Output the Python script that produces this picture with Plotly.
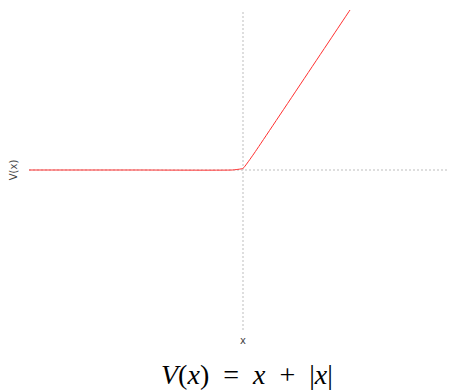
import plotly.graph_objects as go

# V(x) = x + |x|
x_vals = [-2, -1, -0.1, 0, 0.1, 1, 2]
v_vals = [0, 0, 0, 0.02, 0.2, 2, 4]

fig = go.Figure()

# dotted axes through the origin
fig.add_shape(type="line", x0=0, x1=0, y0=-2, y1=2, xref="x", yref="y",
              line=dict(color="#bdbdbd", width=1, dash="2px,2px"), layer="below")
fig.add_shape(type="line", x0=-2, x1=2, y0=0, y1=0, xref="x", yref="y",
              line=dict(color="#bdbdbd", width=1, dash="2px,2px"), layer="below")

fig.add_trace(go.Scatter(x=x_vals, y=v_vals, mode="lines",
                         line=dict(color="#ff3030", width=1, shape="spline", smoothing=0.3),
                         showlegend=False, hoverinfo="skip"))

fig.update_xaxes(range=[-2, 2], showgrid=False, zeroline=False, showticklabels=False,
                 ticks="", showline=False, automargin=False,
                 title=dict(text="x", font=dict(family="DejaVu Sans", size=10, color="#444"), standoff=6))
fig.update_yaxes(range=[-2, 2], showgrid=False, zeroline=False, showticklabels=False,
                 ticks="", showline=False, automargin=False,
                 title=dict(text="V(x)", font=dict(family="DejaVu Sans", size=10, color="#444"), standoff=10))

fig.add_annotation(text="<i>V</i>(<i>x</i>)&nbsp; =&nbsp; <i>x</i>&nbsp; +&nbsp; |<i>x</i>|",
                   xref="paper", yref="paper",
                   x=0.51, y=-0.14, yanchor="middle", showarrow=False,
                   font=dict(family="Liberation Serif", size=28, color="black"))

# page body adds an 8px offset, so the figure is drawn 8px smaller
fig.update_layout(width=449, height=382, plot_bgcolor="white", paper_bgcolor="white",
                  margin=dict(l=21, r=0, t=2, b=60, autoexpand=False))

fig.write_html("out.html")
